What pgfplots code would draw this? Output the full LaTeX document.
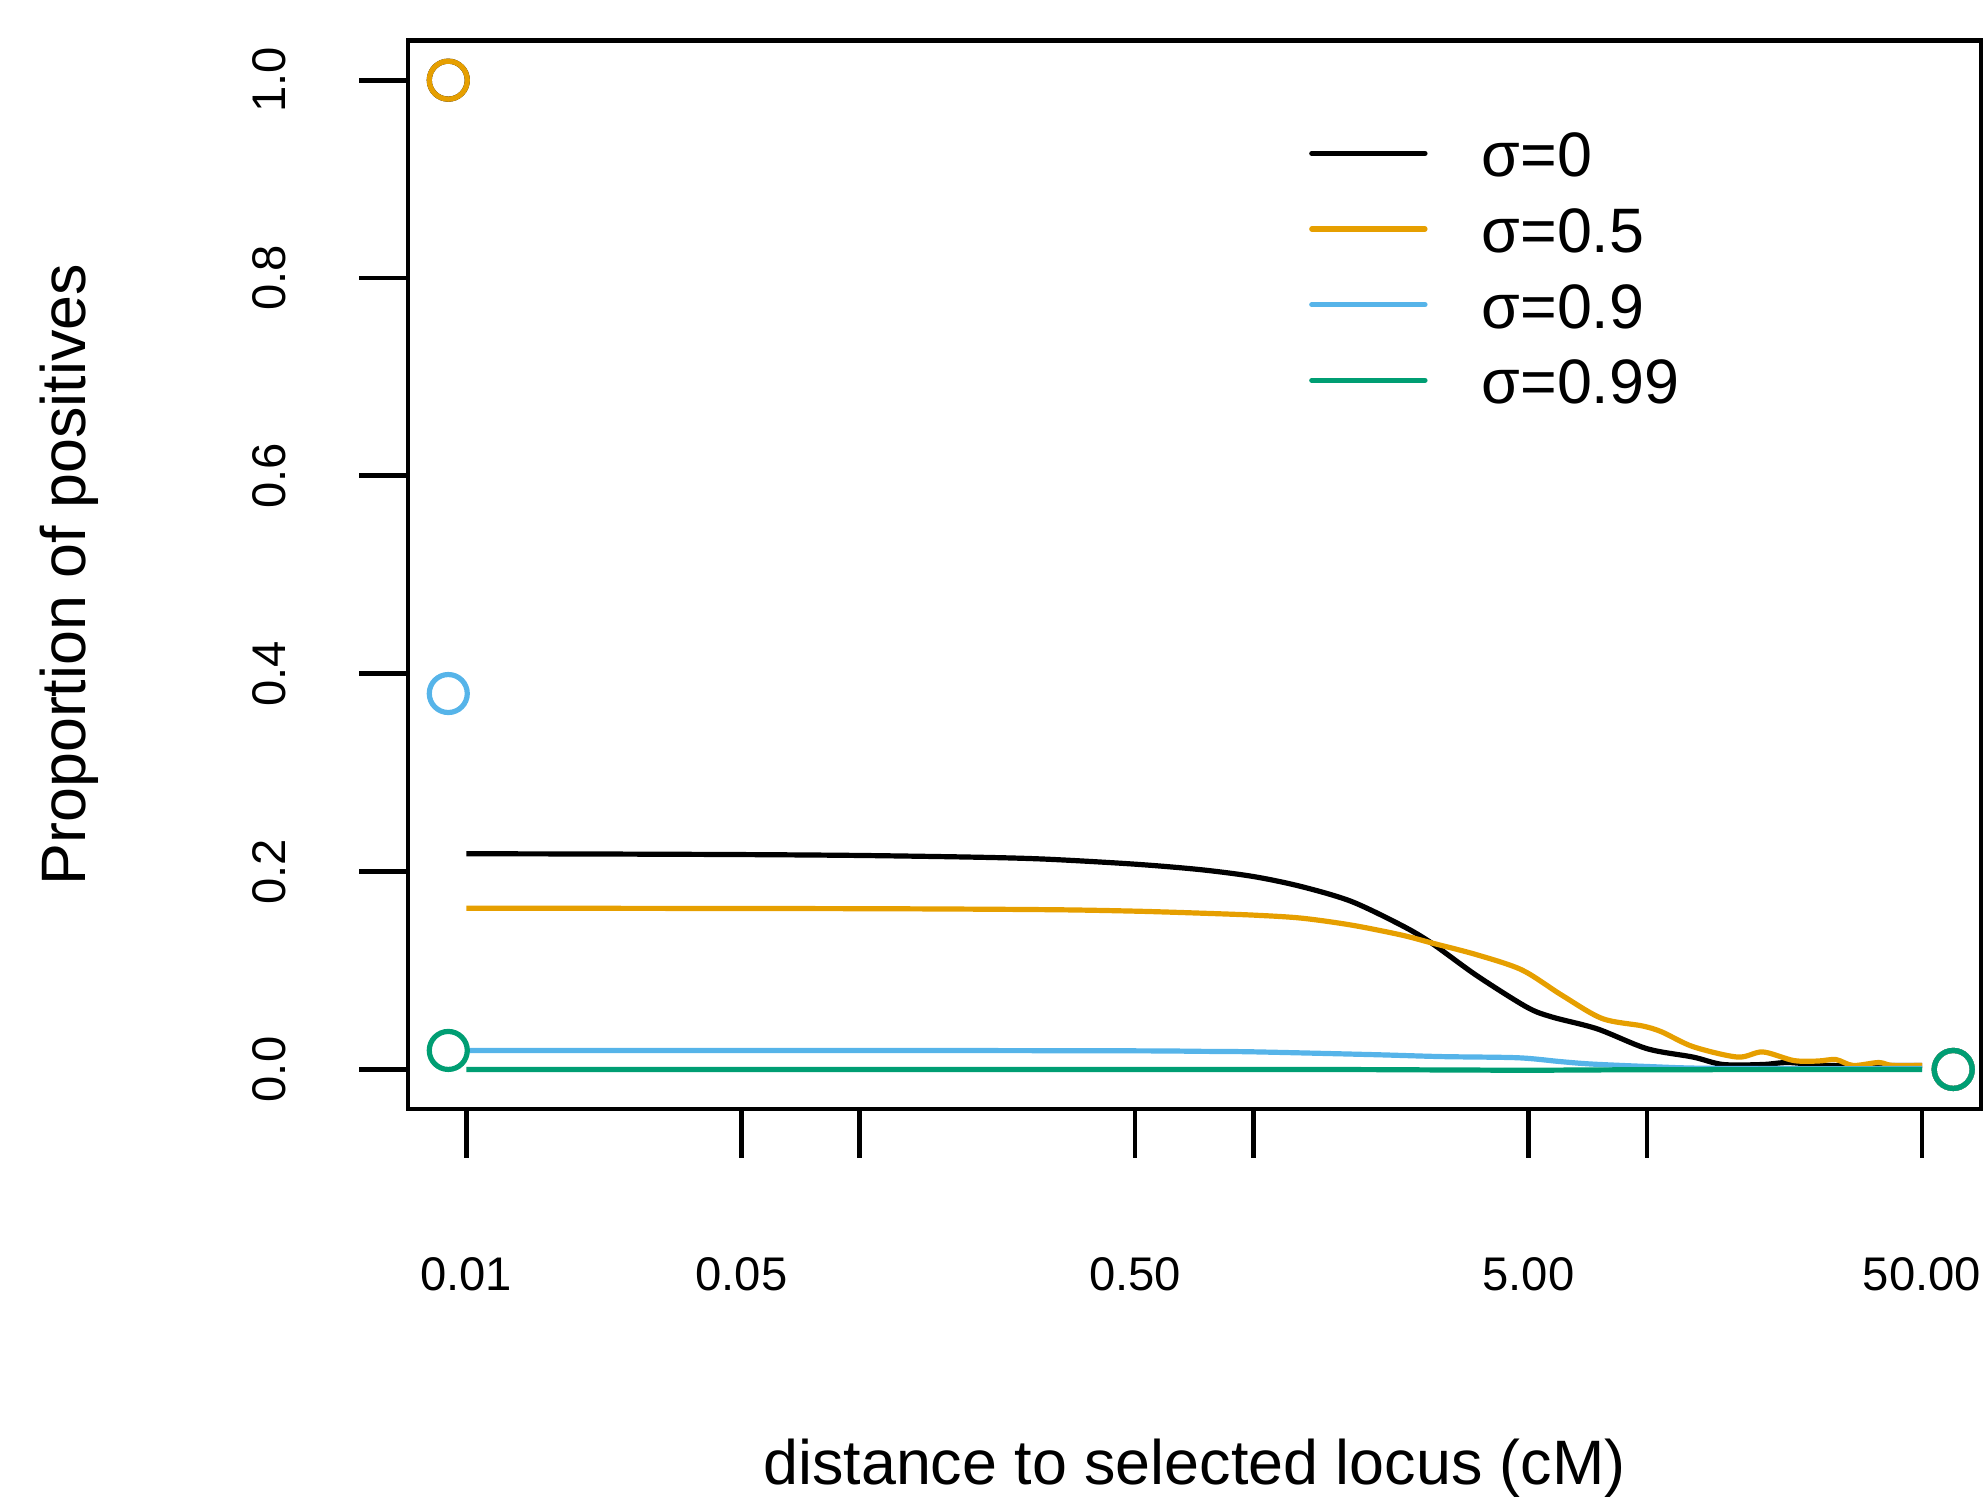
\documentclass[border=0pt]{standalone}
\usepackage{fontspec}
\setmainfont{Liberation Sans}
\usepackage{pgfplots}
\pgfplotsset{compat=1.18}

\definecolor{sorange}{HTML}{E69F00}
\definecolor{sblue}{HTML}{56B4E9}
\definecolor{sgreen}{HTML}{009E73}

\newcommand{\bigfont}{\fontsize{15.7}{18.8}\selectfont}
\newcommand{\tickfont}{\fontsize{11.8}{14}\selectfont}

\pgfplotstableread{
x y
0.01 0.218
0.02 0.2178
0.05 0.2172
0.1 0.2163
0.2 0.2145
0.3 0.2125
0.5 0.2075
0.732 0.202
1 0.195
1.32 0.185
1.77 0.170
2.37 0.146
2.83 0.128
3.69 0.095
4.95 0.063
5.74 0.053
7.48 0.041
10 0.021
13.1 0.0125
15.6 0.005
19.7 0.005
22.9 0.007
28.9 0.004
44.9 0.004
50 0.004
}\sigzero

\pgfplotstableread{
x y
0.01 0.163
0.1 0.1625
0.3 0.1615
0.5 0.160
0.732 0.158
1 0.156
1.32 0.153
1.77 0.146
2.37 0.136
2.83 0.128
3.69 0.116
4.81 0.1006
6.08 0.075
7.69 0.0515
9.73 0.044
10.9 0.038
13.1 0.023
17.0 0.0125
19.7 0.0177
23.6 0.009
27.2 0.0085
30.2 0.010
33.4 0.004
38.8 0.007
42 0.004
50 0.004
}\sighalf

\pgfplotstableread{
x y
0.01 0.0192
0.1 0.0192
0.5 0.0188
0.732 0.0183
1 0.0178
2 0.015
3 0.013
4.7 0.0118
6 0.008
7.2 0.0055
10 0.003
14 0.0012
30 0.0008
50 0.001
}\signine

\pgfplotstableread{
x y
0.01 0.0
1 0.0
3 -0.0005
5 -0.0008
10 -0.0003
50 0.0
}\signn

\begin{document}
\begin{tikzpicture}
\useasboundingbox (-102pt,-97.5pt) rectangle (394.75pt,277.25pt);
\begin{axis}[
  scale only axis,
  width=393.25pt, height=267.1pt,
  xmode=log,
  xmin=0.00711, xmax=70.6,
  ymin=-0.04, ymax=1.04,
  axis line style={line width=1.2pt},
  tick style={line width=1.2pt, black},
  tick align=outside,
  major tick length=12.2pt,
  tick pos=left,
  xminorticks=false,
  xtick={0.01,0.05,0.1,0.5,1,5,10,50},
  xticklabels={0.01,0.05,,0.50,,5.00,,50.00},
  ytick={0,0.2,0.4,0.6,0.8,1},
  ticklabel style={font=\tickfont},
  /pgf/number format/assume math mode=true,
  yticklabel style={/pgf/number format/fixed, /pgf/number format/fixed zerofill, /pgf/number format/precision=1, anchor=center, xshift=-22.5pt, rotate=90},
  xticklabel style={anchor=center, yshift=-29pt},
  xlabel={distance to selected locus (cM)},
  ylabel={Proportion of positives},
  every axis x label/.style={at={(axis description cs:0.5,-0.3365)}, anchor=center, font=\bigfont},
  every axis y label/.style={at={(axis description cs:-0.2156,0.5)}, anchor=center, rotate=90, font=\bigfont},
  legend style={draw=none, fill=none, at={(axis description cs:0.5724,0.9170)}, anchor=north west, inner sep=0pt, row sep=7.2pt, column sep=13.5pt, font=\bigfont, nodes={inner sep=0pt, text height=11.7pt, text depth=0pt}},
  legend cell align=left,
  legend image code/.code={\draw[#1, line cap=round] (0.5pt,0pt) -- (28.8pt,0pt);},
]
\addplot[black, line width=1.3pt, smooth, tension=0.5] table {\sigzero};
\addlegendentry{σ=0}
\addplot[sorange, line width=1.3pt, smooth, tension=0.5] table {\sighalf};
\addlegendentry{σ=0.5}
\addplot[sblue, line width=1.3pt, smooth, tension=0.5] table {\signine};
\addlegendentry{σ=0.9}
\addplot[sgreen, line width=1.3pt, smooth, tension=0.5] table {\signn};
\addlegendentry{σ=0.99}

% end points
\addplot[forget plot, only marks, mark=o, mark size=4.75pt, black, line width=1.3pt] coordinates {(0.009,1.0) (60,0)};
\addplot[forget plot, only marks, mark=o, mark size=4.75pt, sorange, line width=1.3pt] coordinates {(0.009,1.0) (60,0)};
\addplot[forget plot, only marks, mark=o, mark size=4.75pt, sblue, line width=1.3pt] coordinates {(0.009,0.38) (60,0)};
\addplot[forget plot, only marks, mark=o, mark size=4.75pt, sgreen, line width=1.3pt] coordinates {(0.009,0.0192) (60,0)};
\end{axis}
\end{tikzpicture}
\end{document}
